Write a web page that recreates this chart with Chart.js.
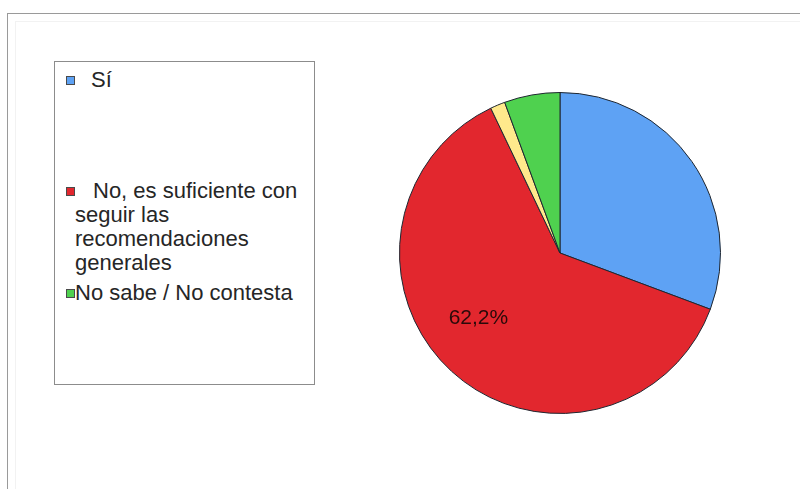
<!DOCTYPE html>
<html>
<head>
<meta charset="utf-8">
<script src="https://cdn.jsdelivr.net/npm/chart.js@4"></script>
<style>
  body { margin: 0; background: #fff; width: 800px; height: 489px; position: relative; overflow: hidden;
         font-family: "Liberation Sans", Arial, sans-serif; }
  #frame { position: absolute; left: 7px; top: 13px; width: 800px; height: 500px;
           border-left: 1px solid #9a9a9a; border-top: 1px solid #9a9a9a; }
  #frame-inner { position: absolute; left: 15px; top: 21px; width: 800px; height: 500px;
                 border-left: 1px solid #f2f2f2; border-top: 1px solid #f2f2f2; }
  #legend { position: absolute; left: 54px; top: 61px; width: 259px; height: 322px;
            border: 1px solid #8c8c8c; }
  .item { position: absolute; left: 20px; width: 232px; font-size: 22px; line-height: 24px; color: #262626; }
  .box { position: absolute; left: -9px; width: 7px; height: 7px; border: 1px solid #4a4a4a; }
  #pie { position: absolute; left: 395px; top: 88px; }
</style>
</head>
<body>
<div id="frame"></div>
<div id="frame-inner"></div>
<div id="legend"></div>
<canvas id="pie" width="330" height="330"></canvas>
<script>
const labels = ['Sí', 'No, es suficiente con seguir las recomendaciones generales', '', 'No sabe / No contesta'];
const values = [30.7, 62.2, 1.5, 5.6];
const colors = ['#5ea2f4', '#e2272e', '#ffe98c', '#4fd14f'];
const shownLabels = [1]; // only the main slice carries a percentage

// legend layout: top of each item and first-line indent (px)
const itemTops = [6, 117, 219];
const itemIndent = [16, 18, 0];

const legend = document.getElementById('legend');
let k = 0;
labels.forEach(function(text, i) {
    if (!text) return;
    const div = document.createElement('div');
    div.className = 'item';
    div.style.top = itemTops[k] + 'px';
    div.style.textIndent = itemIndent[k] + 'px';
    div.textContent = text;
    const box = document.createElement('span');
    box.className = 'box';
    box.style.top = '8px';
    box.style.background = colors[i];
    div.appendChild(box);
    legend.appendChild(div);
    k++;
});

const total = values.reduce((a, b) => a + b, 0);

const pieLabels = {
    id: 'pieLabels',
    afterDatasetsDraw(chart) {
        const ctx = chart.ctx;
        const meta = chart.getDatasetMeta(0);
        ctx.save();
        ctx.font = '21px "Liberation Sans", Arial, sans-serif';
        ctx.fillStyle = '#2a0a0a';
        ctx.textAlign = 'center';
        ctx.textBaseline = 'middle';
        shownLabels.forEach(function(i) {
            const arc = meta.data[i];
            const a = arc.startAngle + (arc.endAngle - arc.startAngle) * 0.54;
            const r = arc.outerRadius * 0.65;
            const pct = (values[i] / total * 100).toFixed(1).replace('.', ',') + '%';
            ctx.fillText(pct, arc.x + Math.cos(a) * r, arc.y + Math.sin(a) * r);
        });
        ctx.restore();
    }
};

new Chart(document.getElementById('pie').getContext('2d'), {
    type: 'pie',
    data: {
        labels: labels,
        datasets: [{
            data: values,
            backgroundColor: colors,
            borderColor: '#1e2630',
            borderWidth: 1
        }]
    },
    options: {
        responsive: false,
        animation: false,
        layout: { padding: 4 },
        plugins: {
            legend: { display: false },
            tooltip: { enabled: false }
        }
    },
    plugins: [pieLabels]
});
</script>
</body>
</html>
